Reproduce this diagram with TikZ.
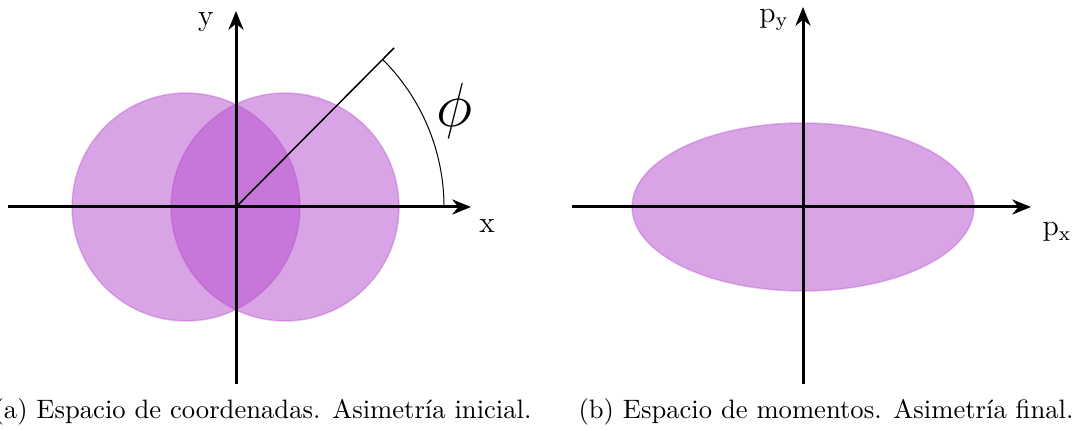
\documentclass[tikz,border=0pt]{standalone}
\usepackage{tikz}
\usetikzlibrary{arrows.meta, positioning}
\definecolor{blobPurple}{HTML}{B449CC}
\tikzset{
  axisArrow/.style={-{Stealth[length=7.5pt, width=6pt]}, line width=1.2pt, black},
  blob/.style={fill=blobPurple, fill opacity=0.5, draw=blobPurple, draw opacity=0.35, line width=0.6pt},
  axisLabel/.style={font=\large, inner sep=0pt},
  capText/.style={font=\fontsize{10.65pt}{13pt}\selectfont, inner sep=0pt},
}
\begin{document}
\begin{tikzpicture}[x=0.4pt, y=-0.4pt]
    \useasboundingbox (0,0) rectangle (1078,431);
    % (a) coordinate space
    \coordinate (oa) at (236,207);
    \filldraw[blob] (186,207) circle (114);
    \filldraw[blob] (285,207) circle (114);
    \coordinate (xa0) at (8,207);
    \coordinate (xa1) at (471,207);
    \coordinate (ya0) at (236,384);
    \coordinate (ya1) at (236,11);
    \draw[axisArrow] (xa0) -- (xa1);
    \draw[axisArrow] (ya0) -- (ya1);
    \coordinate (rend) at (394,48);
    \draw[line width=0.6pt] (oa) -- (rend);
    \draw[line width=0.4pt] ([xshift=208*0.4pt]oa) arc[start angle=0, end angle=45, radius=208*0.4pt];
    \node[axisLabel] (xlab) at (487,226) {x};
    \node[axisLabel] (ylab) at (206,22) {y};
    \node[font=\Huge, inner sep=0pt] (phi) at (455,111) {$\phi$};
    \node[capText, anchor=base east] (capa) at (532,418) {(a) Espacio de coordenadas. Asimetr\'ia inicial.};
    % (b) momentum space
    \coordinate (ob) at (803,207);
    \filldraw[blob] (ob) ellipse[x radius=171, y radius=84];
    \coordinate (xb0) at (572,207);
    \coordinate (xb1) at (1031,207);
    \coordinate (yb0) at (803,384);
    \coordinate (yb1) at (803,7);
    \draw[axisArrow] (xb0) -- (xb1);
    \draw[axisArrow] (yb0) -- (yb1);
    \node[axisLabel] (pxlab) at (1057,232) {$\mathrm{p_x}$};
    \node[axisLabel] (pylab) at (774,20) {$\mathrm{p_y}$};
    \node[capText, anchor=base west] (capb) at (578,418) {(b) Espacio de momentos. Asimetr\'ia final.};
\end{tikzpicture}
\end{document}
